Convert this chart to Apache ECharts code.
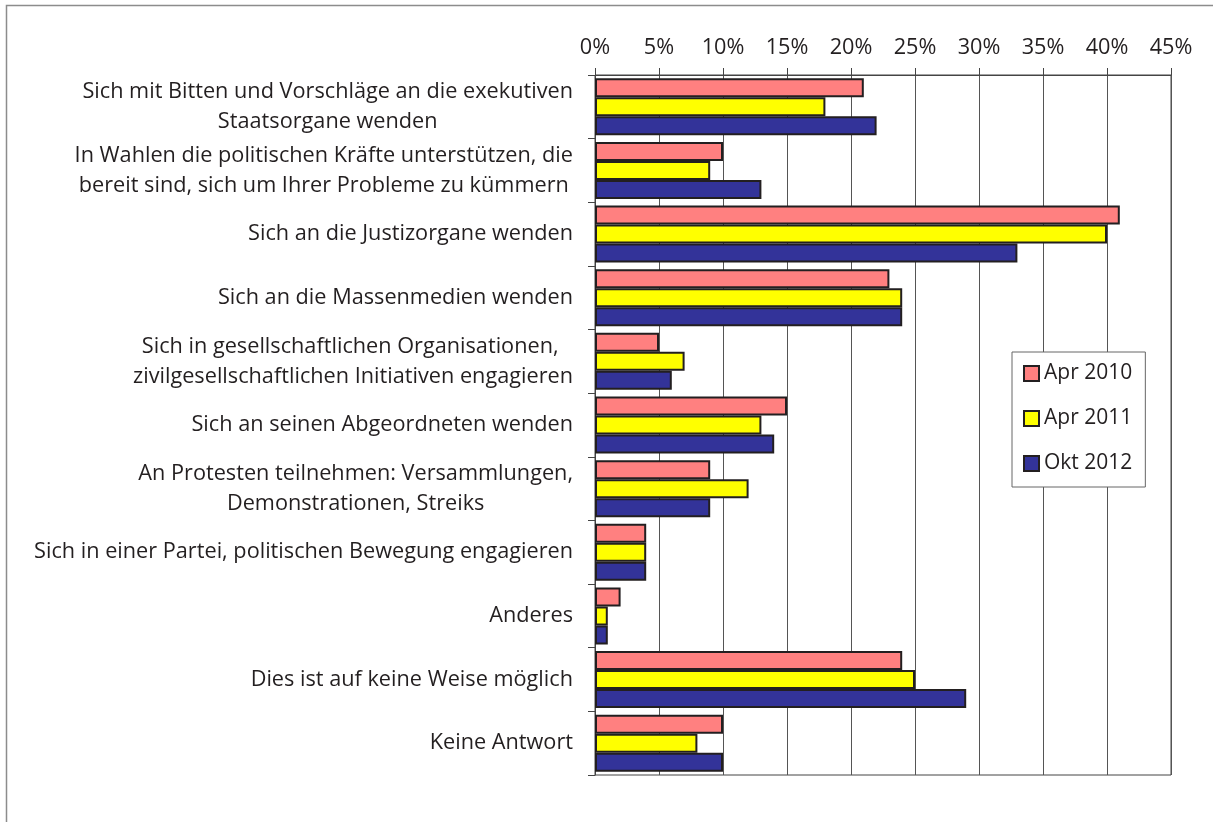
<!DOCTYPE html>
<html>
<head>
<meta charset="utf-8">
<script src="https://cdn.jsdelivr.net/npm/echarts@6/dist/echarts.min.js"></script>
<style>
html,body{margin:0;padding:0;background:#fff;}
#chart{width:1213px;height:822px;}
</style>
</head>
<body>
<div id="chart"></div>
<script>
const categories = [
  "Sich mit Bitten und Vorschläge an die exekutiven\nStaatsorgane wenden",
  "In Wahlen die politischen Kräfte unterstützen, die\nbereit sind, sich um Ihrer Probleme zu kümmern",
  "Sich an die Justizorgane wenden",
  "Sich an die Massenmedien wenden",
  "Sich in gesellschaftlichen Organisationen, \nzivilgesellschaftlichen Initiativen engagieren",
  "Sich an seinen Abgeordneten wenden",
  "An Protesten teilnehmen: Versammlungen,\nDemonstrationen, Streiks",
  "Sich in einer Partei, politischen Bewegung engagieren",
  "Anderes",
  "Dies ist auf keine Weise möglich",
  "Keine Antwort"
];
const seriesNames = ["Apr 2010", "Apr 2011", "Okt 2012"];
const apr2010 = [21, 10, 41, 23, 5, 15, 9, 4, 2, 24, 10];
const apr2011 = [18, 9, 40, 24, 7, 13, 12, 4, 1, 25, 8];
const okt2012 = [22, 13, 33, 24, 6, 14, 9, 4, 1, 29, 10];
const xTicks = [0, 5, 10, 15, 20, 25, 30, 35, 40, 45];

const FONT = "'Open Sans', sans-serif";
const FS = 21.7;
const colors = ["#FF8080", "#FFFF00", "#333399"];
const values = [apr2010, apr2011, okt2012];

const chart = echarts.init(document.getElementById('chart'));
const option = {
  animation: false,
  backgroundColor: '#ffffff',
  graphic: [{
    type: 'rect',
    shape: { x: 6.5, y: 5.5, width: 1400, height: 1000 },
    style: { fill: 'none', stroke: '#8c8c8c', lineWidth: 1.5 },
    silent: true
  }],
  grid: {
    left: 595, top: 75, width: 576, height: 700,
    show: true, borderColor: '#444', borderWidth: 1, backgroundColor: 'transparent'
  },
  legend: {
    orient: 'vertical',
    left: 1012, top: 352,
    padding: [11, 13, 13, 11],
    itemGap: 24,
    itemWidth: 15, itemHeight: 15,
    icon: 'rect',
    backgroundColor: '#fff',
    borderColor: '#666', borderWidth: 1,
    textStyle: { fontFamily: FONT, fontSize: 21, color: '#231f20', lineHeight: 21 },
    itemStyle: { borderColor: '#231f20', borderWidth: 2 },
    data: seriesNames
  },
  xAxis: {
    type: 'value',
    position: 'top',
    min: xTicks[0], max: xTicks[xTicks.length - 1], interval: 5,
    axisLine: { show: true, lineStyle: { color: '#444', width: 1 } },
    axisTick: { show: true, inside: false, length: 7, lineStyle: { color: '#444' } },
    splitLine: { show: true, lineStyle: { color: '#555', width: 1 } },
    axisLabel: {
      formatter: '{value}%', margin: 16,
      fontFamily: FONT, fontSize: FS, color: '#231f20'
    }
  },
  yAxis: {
    type: 'category',
    inverse: true,
    data: categories,
    axisLine: { show: true, lineStyle: { color: '#444', width: 1 } },
    axisTick: { show: true, inside: false, length: 7, lineStyle: { color: '#444' } },
    splitLine: { show: false },
    axisLabel: {
      margin: 22,
      fontFamily: FONT, fontSize: FS, color: '#231f20', lineHeight: 30,
      formatter: function (v) {
        return v.split('\n').map(function (l) { return '{c|' + l + '}'; }).join('\n');
      },
      rich: {
        c: { align: 'center', fontFamily: FONT, fontSize: FS, color: '#231f20', lineHeight: 30 }
      }
    }
  },
  series: seriesNames.map(function (name, i) {
    return {
      name: name,
      type: 'bar',
      data: values[i],
      barWidth: 19,
      barGap: '0%',
      itemStyle: { color: colors[i], borderColor: '#231f20', borderWidth: 2 }
    };
  })
};
chart.setOption(option);
</script>
</body>
</html>
